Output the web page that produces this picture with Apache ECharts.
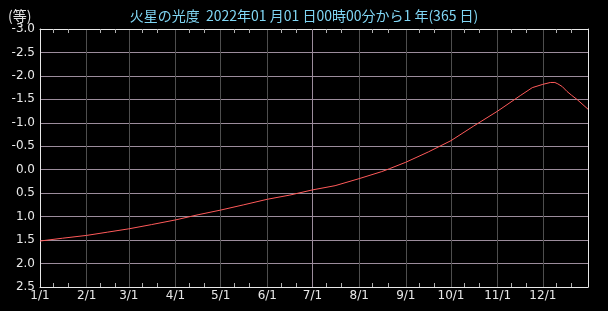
<!DOCTYPE html>
<html><head><meta charset="utf-8">
<script src="https://cdn.jsdelivr.net/npm/echarts@6/dist/echarts.min.js"></script>
<style>html,body{margin:0;padding:0;background:#000}#c{width:608px;height:311px}</style>
</head><body><div id="c"></div>
<script>
const titleText = '火星の光度  2022年01 月01 日00時00分から1 年(365 日)';
const unitText = '(等)';
const monthLabels = ['1/1','2/1','3/1','4/1','5/1','6/1','7/1','8/1','9/1','10/1','11/1','12/1'];
const monthDays = [31,28,31,30,31,30,31,31,30,31,30,31];
const minorTickDays = [10, 20];
const highlightMonth = '7/1';
// [day index from 2022-01-01, magnitude]
const magnitude = [
  [0,1.52],[15,1.46],[31,1.40],[45,1.33],[59,1.26],[74,1.17],[90,1.07],[105,0.96],
  [120,0.86],[135,0.75],[151,0.63],[166,0.54],[181,0.43],[196,0.34],[212,0.19],
  [227,0.04],[232,-0.02],[243,-0.16],[258,-0.38],[273,-0.62],[288,-0.93],[304,-1.25],[319,-1.58],
  [327,-1.75],[334,-1.82],[339,-1.86],[342,-1.86],[344,-1.83],[347,-1.77],[350,-1.67],
  [353,-1.59],[357,-1.49],[364,-1.29]
];
const yMin = -3.0, yMax = 2.5, yStep = 0.5;

const days = [], monthStartIdx = new Set(), minorIdx = new Set();
monthDays.forEach((n, m) => {
  for (let d = 1; d <= n; d++) {
    if (d === 1) monthStartIdx.add(days.length);
    if (minorTickDays.includes(d)) minorIdx.add(days.length);
    days.push((m + 1) + '/' + d);
  }
});

const gridCol = '#9c8c9c', vCol = '#4e4e4e', axCol = '#e8e8e8', tickCol = '#b0b0b0';
const chart = echarts.init(document.getElementById('c'));
chart.setOption({
  backgroundColor: '#000',
  animation: false,
  title: [
    {text: titleText, left: 'center', top: 4, textStyle: {color: '#80d6f4', fontSize: 14, fontWeight: 'normal', fontFamily: 'Noto Sans CJK JP'}},
    {text: unitText, left: 3, top: 4, textStyle: {color: '#e0e0e0', fontSize: 14, fontWeight: 'normal', fontFamily: 'Noto Sans CJK JP'}}
  ],
  grid: {left: 40, right: 20, top: 29, bottom: 24},
  xAxis: [{
    type: 'category', data: days, boundaryGap: false, position: 'bottom',
    axisLine: {onZero: false, lineStyle: {color: axCol}},
    axisTick: {show: true, inside: true, length: 4, interval: (i) => minorIdx.has(i), lineStyle: {color: tickCol}},
    axisLabel: {interval: (i) => monthStartIdx.has(i), color: '#e8e8e8', fontSize: 12, fontFamily: 'DejaVu Sans', margin: 3},
    splitLine: {show: true, interval: (i) => monthStartIdx.has(i) && i > 0, lineStyle: {color: vCol, width: 1}}
  }, {
    type: 'category', data: days, boundaryGap: false, position: 'top',
    axisLine: {onZero: false, lineStyle: {color: axCol}},
    axisTick: {show: true, inside: true, length: 4, interval: (i) => minorIdx.has(i), lineStyle: {color: tickCol}},
    axisLabel: {show: false}, splitLine: {show: false}
  }],
  yAxis: [{
    type: 'value', inverse: true, min: yMin, max: yMax, interval: yStep,
    axisLine: {show: true, onZero: false, lineStyle: {color: axCol}}, axisTick: {show: false},
    axisLabel: {color: '#e8e8e8', fontSize: 12, fontFamily: 'DejaVu Sans', margin: 5, formatter: (v) => v.toFixed(1)},
    splitLine: {show: true, lineStyle: {color: gridCol, width: 1}}
  }, {
    type: 'value', inverse: true, min: yMin, max: yMax, interval: yStep, position: 'right',
    axisLine: {show: true, onZero: false, lineStyle: {color: axCol}}, axisTick: {show: false},
    axisLabel: {show: false}, splitLine: {show: false}
  }],
  series: [{
    type: 'line', data: magnitude, xAxisIndex: 0, yAxisIndex: 0,
    showSymbol: false, smooth: false, lineStyle: {color: '#ff5a5a', width: 1},
    markLine: {silent: true, symbol: ['none', 'none'], label: {show: false},
      lineStyle: {color: gridCol, width: 1, type: 'solid'}, data: [{xAxis: highlightMonth}]},
    z: 5
  }]
});
</script></body></html>
